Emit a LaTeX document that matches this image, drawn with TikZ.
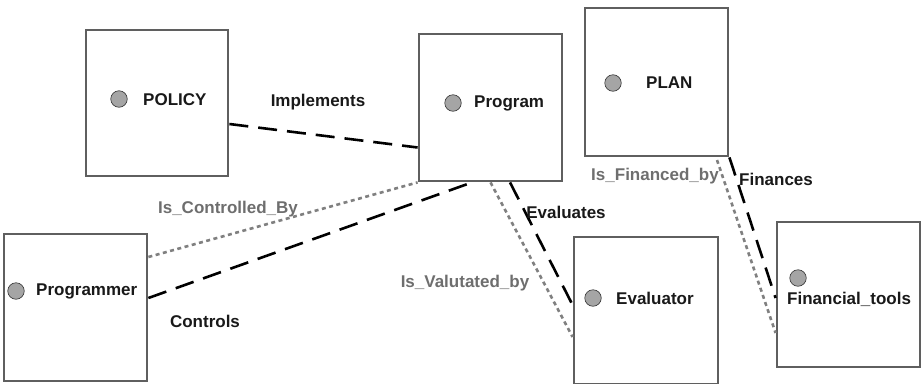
\documentclass[tikz,border=0pt]{standalone}
\usepackage{fontspec}
\setmainfont{Liberation Sans}
\definecolor{boxgray}{RGB}{95,95,95}
\definecolor{dotgray}{RGB}{128,128,128}
\definecolor{labgray}{RGB}{110,110,110}
\definecolor{ballfill}{RGB}{165,165,165}
\tikzset{
  entity/.style={draw=boxgray, line width=2.8pt, fill=white, inner sep=0pt, minimum width=#1},
  ball/.style={circle, draw=black!80, line width=0.6pt, fill=ballfill, minimum size=16.5pt, inner sep=0pt},
  ename/.style={font=\bfseries\fontsize{17}{20}\selectfont, text=black!90, inner sep=0pt, anchor=west},
  blab/.style={font=\bfseries\fontsize{17}{20}\selectfont, text=black!90, inner sep=0pt},
  glab/.style={font=\bfseries\fontsize{17}{20}\selectfont, text=labgray, inner sep=0pt},
  rel/.style={line width=2.6pt, black, dash pattern=on 19pt off 10pt},
  inv/.style={line width=2.6pt, dotgray, dash pattern=on 4pt off 3.5pt},
}
\begin{document}
\begin{tikzpicture}[x=1pt,y=-1pt]
\useasboundingbox (0,0) rectangle (923,383);
% boxes
\node[entity=142pt, minimum height=146pt] (policy) at (157,103) {};
\node[entity=143pt, minimum height=147pt] (program) at (490.5,107.5) {};
\node[entity=143pt, minimum height=148pt] (plan) at (656.5,82) {};
\node[entity=143pt, minimum height=147pt] (programmer) at (75.5,307.5) {};
\node[entity=144pt, minimum height=147pt] (evaluator) at (646,310.5) {};
\node[entity=143pt, minimum height=145pt] (fintools) at (848.5,294.5) {};
% balls and names
\node[ball] (b1) at (119,99) {};
\node[ename] (n1) at (143,100) {POLICY};
\node[ball] (b2) at (453,103) {};
\node[ename] (n2) at (474,103) {Program};
\node[ball] (b3) at (613,83) {};
\node[ename] (n3) at (646,83) {PLAN};
\node[ball] (b4) at (16,291) {};
\node[ename] (n4) at (36,291) {Programmer};
\node[ball] (b5) at (593,298) {};
\node[ename] (n5) at (616,298) {Evaluator};
\node[ball] (b6) at (798,278) {};
\node[ename] (n6) at (787,299) {Financial\_tools};
% connectors
\coordinate (fb) at (717,160);
\draw[rel] ([yshift=-21pt]policy.east) -- ([yshift=-40pt]program.west);
\draw[inv] ([yshift=50.5pt]programmer.east) -- (program.south west);
\draw[rel] ([yshift=9.5pt]programmer.east) -- ([xshift=-18.5pt]program.south);
\draw[inv] (program.south) -- ([yshift=-26.5pt]evaluator.west);
\draw[rel] ([xshift=19.5pt]program.south) -- ([yshift=5.5pt]evaluator.west);
\draw[inv] (fb) -- ([yshift=-38.5pt]fintools.west);
\draw[rel] (plan.south east) -- ([yshift=-3.5pt]fintools.west);
% labels
\node[blab] (l1) at (318,102) {Implements};
\node[glab] (l2) at (228,209) {Is\_Controlled\_By};
\node[blab] (l3) at (205,321) {Controls};
\node[glab] (l4) at (465,283) {Is\_Valutated\_by};
\node[blab] (l5) at (566,212) {Evaluates};
\node[glab] (l6) at (655,176) {Is\_Financed\_by};
\node[blab] (l7) at (776,179) {Finances};
\end{tikzpicture}
\end{document}
